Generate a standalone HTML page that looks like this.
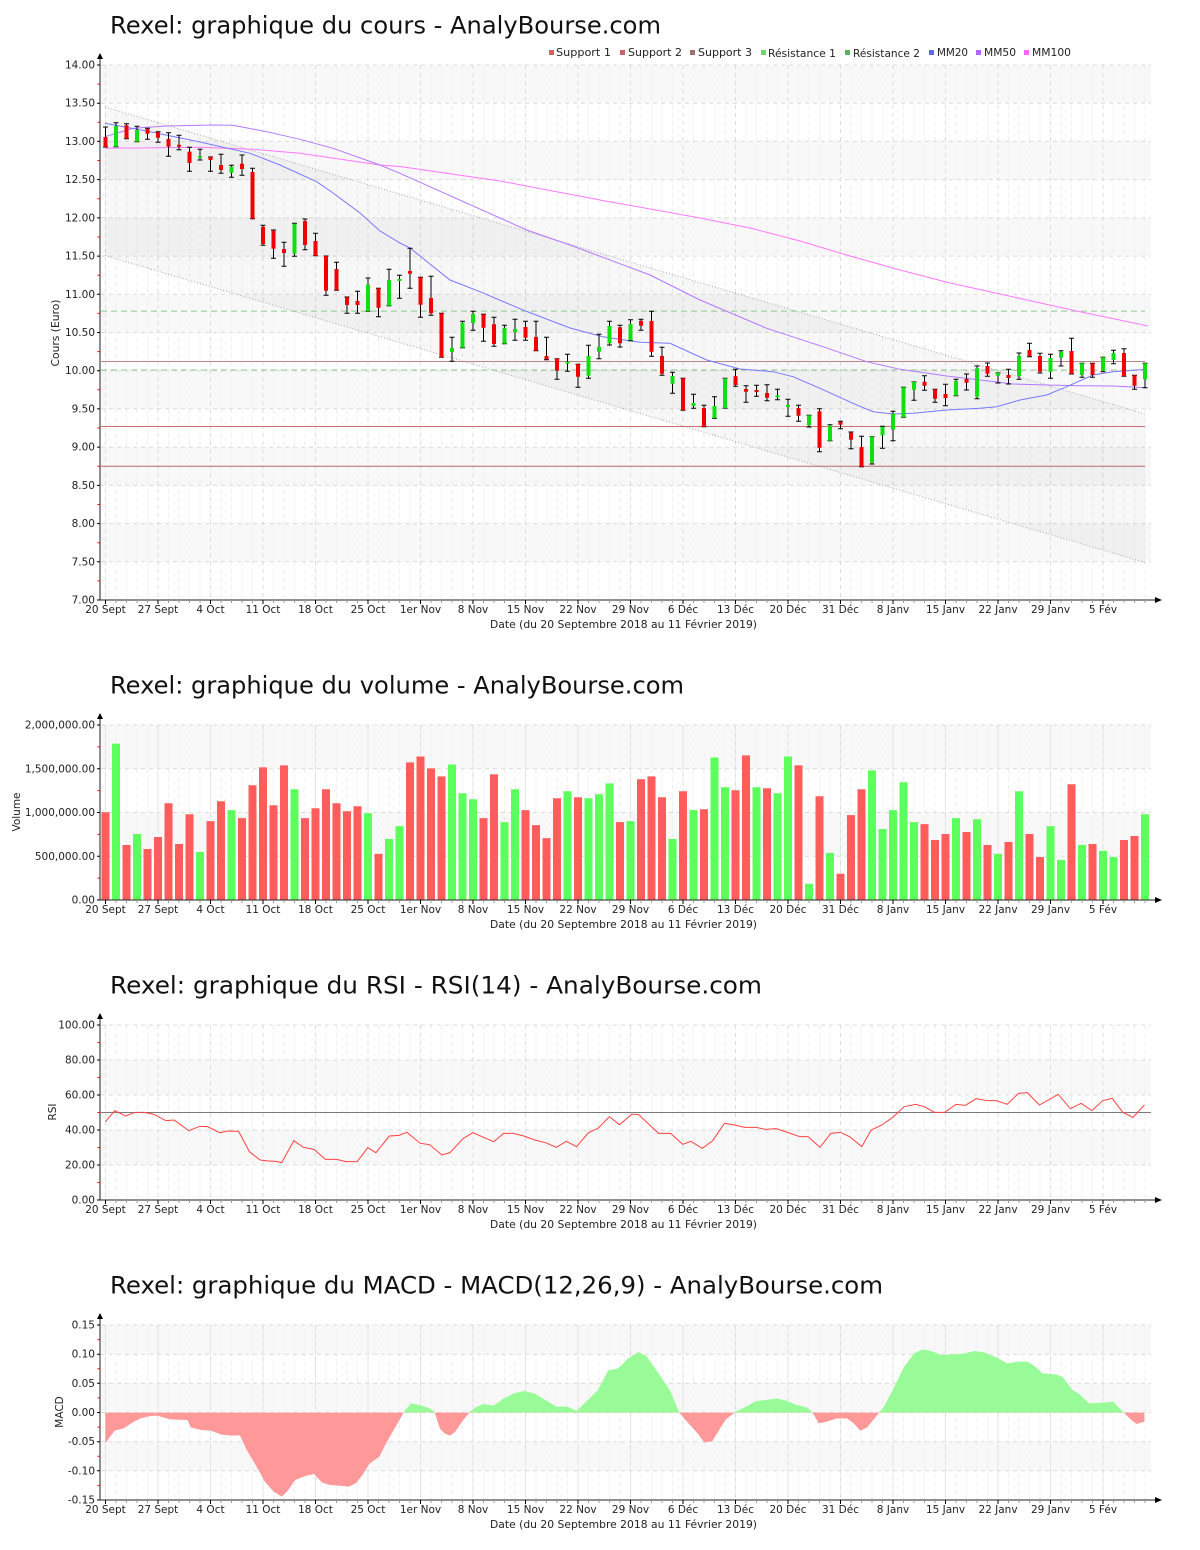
<!DOCTYPE html>
<html><head><meta charset="utf-8"><style>html,body{margin:0;padding:0;background:#fff}svg{display:block}</style></head><body>
<svg width="1200" height="1550" viewBox="0 0 1200 1550" xmlns="http://www.w3.org/2000/svg" xmlns:xlink="http://www.w3.org/1999/xlink" font-family="'DejaVu Sans','Liberation Sans',sans-serif">
<defs>
<pattern id="pd" patternUnits="userSpaceOnUse" x="105" y="1" width="10.5" height="8"><rect width="1" height="4" fill="#eeeeee"/></pattern>
<pattern id="pt" patternUnits="userSpaceOnUse" x="105" y="0" width="10.5" height="3"><rect width="1" height="3" fill="#9a9a9a"/></pattern>
<path id="vw175" d="M105.5 0V175M158 0V175M210.5 0V175M263 0V175M315.5 0V175M368 0V175M420.5 0V175M473 0V175M525.5 0V175M578 0V175M630.5 0V175M683 0V175M735.5 0V175M788 0V175M840.5 0V175M893 0V175M945.5 0V175M998 0V175M1050.5 0V175M1103 0V175" stroke="#dcdcdc" stroke-dasharray="4 4" fill="none"/>
<g id="xt">
<rect x="101" y="0" width="1050" height="3" fill="url(#pt)"/>
<path d="M105.5 0v4M158 0v4M210.5 0v4M263 0v4M315.5 0v4M368 0v4M420.5 0v4M473 0v4M525.5 0v4M578 0v4M630.5 0v4M683 0v4M735.5 0v4M788 0v4M840.5 0v4M893 0v4M945.5 0v4M998 0v4M1050.5 0v4M1103 0v4" stroke="#000" fill="none"/>
<g font-size="10.5" text-anchor="middle" fill="#222">
<text x="105.5" y="13">20 Sept</text><text x="158" y="13">27 Sept</text><text x="210.5" y="13">4 Oct</text><text x="263" y="13">11 Oct</text><text x="315.5" y="13">18 Oct</text><text x="368" y="13">25 Oct</text><text x="420.5" y="13">1er Nov</text><text x="473" y="13">8 Nov</text><text x="525.5" y="13">15 Nov</text><text x="578" y="13">22 Nov</text><text x="630.5" y="13">29 Nov</text><text x="683" y="13">6 Déc</text><text x="735.5" y="13">13 Déc</text><text x="788" y="13">20 Déc</text><text x="840.5" y="13">31 Déc</text><text x="893" y="13">8 Janv</text><text x="945.5" y="13">15 Janv</text><text x="998" y="13">22 Janv</text><text x="1050.5" y="13">29 Janv</text><text x="1103" y="13">5 Fév</text>
<text x="623.5" y="28" textLength="267" lengthAdjust="spacingAndGlyphs">Date (du 20 Septembre 2018 au 11 Février 2019)</text>
</g>
</g>
<clipPath id="cUp"><rect x="100" y="1300" width="1100" height="112.5"/></clipPath>
<clipPath id="cDn"><rect x="100" y="1412.5" width="1100" height="120"/></clipPath>
</defs>
<rect width="1200" height="1550" fill="#fff"/>

<!-- ================= PANEL 1 ================= -->
<text x="110" y="33.3" font-size="24" fill="#111" textLength="551" lengthAdjust="spacingAndGlyphs">Rexel: graphique du cours - AnalyBourse.com</text>
<g font-size="10.5" fill="#222">
<rect x="549" y="50" width="5" height="5" fill="#dc5f5f"/><text x="556" y="56" textLength="55" lengthAdjust="spacingAndGlyphs">Support 1</text>
<rect x="620" y="50" width="5" height="5" fill="#c06868"/><text x="628" y="56" textLength="54" lengthAdjust="spacingAndGlyphs">Support 2</text>
<rect x="690" y="50" width="5" height="5" fill="#a07070"/><text x="698" y="56" textLength="54" lengthAdjust="spacingAndGlyphs">Support 3</text>
<rect x="761" y="50" width="5" height="5" fill="#62dc62"/><text x="768" y="57" textLength="68" lengthAdjust="spacingAndGlyphs">Résistance 1</text>
<rect x="845" y="50" width="5" height="5" fill="#5fb05f"/><text x="853" y="57" textLength="67" lengthAdjust="spacingAndGlyphs">Résistance 2</text>
<rect x="929" y="50" width="5" height="5" fill="#6464ff"/><text x="937" y="56" textLength="31" lengthAdjust="spacingAndGlyphs">MM20</text>
<rect x="976" y="50" width="5" height="5" fill="#b464ff"/><text x="984" y="56" textLength="32" lengthAdjust="spacingAndGlyphs">MM50</text>
<rect x="1024" y="50" width="5" height="5" fill="#ff64ff"/><text x="1032" y="56" textLength="39" lengthAdjust="spacingAndGlyphs">MM100</text>
</g>
<g fill="#f8f8f8">
<rect x="101" y="65" width="1050" height="38.2"/><rect x="101" y="141.4" width="1050" height="38.2"/><rect x="101" y="217.9" width="1050" height="38.2"/><rect x="101" y="294.3" width="1050" height="38.2"/><rect x="101" y="370.7" width="1050" height="38.2"/><rect x="101" y="447.1" width="1050" height="38.3"/><rect x="101" y="523.6" width="1050" height="38.2"/>
</g>
<rect x="101" y="65" width="1050" height="535" fill="url(#pd)"/>
<path d="M105.5 65V600M158 65V600M210.5 65V600M263 65V600M315.5 65V600M368 65V600M420.5 65V600M473 65V600M525.5 65V600M578 65V600M630.5 65V600M683 65V600M735.5 65V600M788 65V600M840.5 65V600M893 65V600M945.5 65V600M998 65V600M1050.5 65V600M1103 65V600" stroke="#dcdcdc" stroke-dasharray="4 4" fill="none"/>
<path d="M101 65H1151M101 103.2H1151M101 141.4H1151M101 179.6H1151M101 217.9H1151M101 256.1H1151M101 294.3H1151M101 332.5H1151M101 370.7H1151M101 408.9H1151M101 447.1H1151M101 485.4H1151M101 523.6H1151M101 561.8H1151" stroke="#dcdcdc" stroke-dasharray="4 4" fill="none"/>
<!-- channel -->
<polygon points="105,107 1145,414 1145,562.5 105,255.5" fill="#000" fill-opacity="0.03"/>
<path d="M105 107L1145 414M105 255.5L1145 562.5" stroke="#a8a8a8" stroke-dasharray="1 2" fill="none"/>
<!-- support / resistance -->
<path d="M101 311.1H1145M101 370H1145" stroke="#8fc88f" stroke-dasharray="6 4" fill="none"/>
<path d="M101 361.5H1145" stroke="#b88888" fill="none"/>
<path d="M101 426.5H1145" stroke="#cc7070" fill="none"/>
<path d="M101 466.3H1145" stroke="#b86a6a" fill="none"/>
<!-- moving averages -->
<polyline fill="none" stroke="#ff78ff" points="105,148.3 200,147.3 253,149.3 300,153.3 380,165 400,166.5 500,181 600,200 700,218 750,228 800,241 850,256 900,270 950,283 1000,294 1027,300 1080,311.7 1148,326"/>
<polyline fill="none" stroke="#b478ff" points="105,136.7 133,128.3 166.7,126 213,125 233,125.3 266.7,131.7 300,139.3 333,148.3 380,165 400,173.3 526.7,230 570,245 636.7,270 650,275 700,300 766.7,328.3 823,346.7 866.7,361.7 900,369.3 946.7,376 980,380 1013,384 1046.7,385 1080,385.7 1113,386 1145,387.7"/>
<polyline fill="none" stroke="#7878ff" points="105,123.3 150,131.7 200,142 250,153.3 280,165 316.7,181.7 333,193 360,213 380,231 400,243 410,248 450,280 480,291.7 523,310 570,328 603,336.7 640,342.3 670,343.3 706.7,360 740,369 773,371.7 793,376.7 820,388.3 853,403.3 873,411.7 893,414 913,413.3 946.7,410 980,408.3 996.7,406.7 1020,400 1046.7,395 1066.7,386.7 1093,375 1113,371.7 1146,369.3"/>
<!-- candles wicks -->
<path fill="none" stroke="#000" stroke-width="1" d="M103 127h5M105.5 127V147M103 147h5M113.5 122.7h5M116 122.7V146.7M113.5 146.7h5M124 123.7h5M126.5 123.7V138.7M124 138.7h5M134.5 126.3h5M137 126.3V141.7M134.5 141.7h5M145 128.3h5M147.5 128.3V139.3M145 139.3h5M155.5 131.7h5M158 131.7V142.3M155.5 142.3h5M166 132.7h5M168.5 132.7V156.3M166 156.3h5M176.5 135.3h5M179 135.3V149.7M176.5 149.7h5M187 147.3h5M189.5 147.3V171.3M187 171.3h5M197.5 149.3h5M200 149.3V160M197.5 160h5M208 157h5M210.5 157V171.3M208 171.3h5M218.5 154.3h5M221 154.3V173.3M218.5 173.3h5M229 165.3h5M231.5 165.3V177.3M229 177.3h5M239.5 155h5M242 155V175.3M239.5 175.3h5M250 168.3h5M252.5 168.3V218.7M250 218.7h5M260.5 225.3h5M263 225.3V245.3M260.5 245.3h5M271 230h5M273.5 230V258.3M271 258.3h5M281.5 242.3h5M284 242.3V266.3M281.5 266.3h5M292 223.3h5M294.5 223.3V256.3M292 256.3h5M302.5 219h5M305 219V249.7M302.5 249.7h5M313 233.3h5M315.5 233.3V255.7M313 255.7h5M323.5 256h5M326 256V295.3M323.5 295.3h5M334 262.3h5M336.5 262.3V290.3M334 290.3h5M344.5 297h5M347 297V313.3M344.5 313.3h5M355 291.3h5M357.5 291.3V313.3M355 313.3h5M365.5 278h5M368 278V311.3M365.5 311.3h5M376 288.3h5M378.5 288.3V316.7M376 316.7h5M386.5 269.3h5M389 269.3V305.7M386.5 305.7h5M397 275.3h5M399.5 275.3V298.3M397 298.3h5M407.5 248.3h5M410 248.3V288.3M407.5 288.3h5M418 277.3h5M420.5 277.3V317.3M418 317.3h5M428.5 276.3h5M431 276.3V315.3M428.5 315.3h5M439 313.3h5M441.5 313.3V357.3M439 357.3h5M449.5 337.3h5M452 337.3V361.3M449.5 361.3h5M460 321.3h5M462.5 321.3V347.7M460 347.7h5M470.5 311.3h5M473 311.3V330.3M470.5 330.3h5M481 314.3h5M483.5 314.3V341.3M481 341.3h5M491.5 317.3h5M494 317.3V346.3M491.5 346.3h5M502 325.3h5M504.5 325.3V343.7M502 343.7h5M512.5 319.3h5M515 319.3V340.3M512.5 340.3h5M523 321.3h5M525.5 321.3V340.3M523 340.3h5M533.5 321.3h5M536 321.3V350.7M533.5 350.7h5M544 337.3h5M546.5 337.3V359.7M544 359.7h5M554.5 358.7h5M557 358.7V379.3M554.5 379.3h5M565 354.3h5M567.5 354.3V371.3M565 371.3h5M575.5 364.3h5M578 364.3V387.3M575.5 387.3h5M586 345.3h5M588.5 345.3V378.3M586 378.3h5M596.5 334.3h5M599 334.3V358.7M596.5 358.7h5M607 321.3h5M609.5 321.3V345M607 345h5M617.5 325.3h5M620 325.3V347M617.5 347h5M628 319.7h5M630.5 319.7V340.7M628 340.7h5M638.5 319.3h5M641 319.3V330.3M638.5 330.3h5M649 311.3h5M651.5 311.3V356.3M649 356.3h5M659.5 347.3h5M662 347.3V375.3M659.5 375.3h5M670 372.3h5M672.5 372.3V393.3M670 393.3h5M680.5 378.3h5M683 378.3V410.3M680.5 410.3h5M691 394.3h5M693.5 394.3V408.3M691 408.3h5M701.5 405.3h5M704 405.3V426.7M701.5 426.7h5M712 396.7h5M714.5 396.7V418.3M712 418.3h5M722.5 378.3h5M725 378.3V408.3M722.5 408.3h5M733 369.3h5M735.5 369.3V386.3M733 386.3h5M743.5 385.7h5M746 385.7V402.3M743.5 402.3h5M754 385.3h5M756.5 385.3V396.3M754 396.3h5M764.5 384.7h5M767 384.7V400.7M764.5 400.7h5M775 389.3h5M777.5 389.3V399.7M775 399.7h5M785.5 399.3h5M788 399.3V416.3M785.5 416.3h5M796 405.3h5M798.5 405.3V421.3M796 421.3h5M806.5 415.3h5M809 415.3V427M806.5 427h5M817 408.7h5M819.5 408.7V451.7M817 451.7h5M827.5 424.7h5M830 424.7V440.7M827.5 440.7h5M838 421.3h5M840.5 421.3V428.7M838 428.7h5M848.5 432h5M851 432V448.7M848.5 448.7h5M859 436.3h5M861.5 436.3V466.7M859 466.7h5M869.5 436.7h5M872 436.7V464M869.5 464h5M880 426.3h5M882.5 426.3V448.3M880 448.3h5M890.5 411.3h5M893 411.3V440.7M890.5 440.7h5M901 387.3h5M903.5 387.3V417.3M901 417.3h5M911.5 382h5M914 382V400.3M911.5 400.3h5M922 375.7h5M924.5 375.7V390.3M922 390.3h5M932.5 389.3h5M935 389.3V402.3M932.5 402.3h5M943 384.3h5M945.5 384.3V405.7M943 405.7h5M953.5 379.3h5M956 379.3V395.7M953.5 395.7h5M964 374h5M966.5 374V390M964 390h5M974.5 366h5M977 366V398.7M974.5 398.7h5M985 363h5M987.5 363V376.3M985 376.3h5M995.5 373h5M998 373V383M995.5 383h5M1006 369.3h5M1008.5 369.3V384M1006 384h5M1016.5 353h5M1019 353V379.3M1016.5 379.3h5M1027 343.3h5M1029.5 343.3V356.7M1027 356.7h5M1037.5 353.3h5M1040 353.3V373M1037.5 373h5M1048 354.3h5M1050.5 354.3V378.3M1048 378.3h5M1058.5 350.7h5M1061 350.7V366M1058.5 366h5M1069 338.3h5M1071.5 338.3V374M1069 374h5M1079.5 363.3h5M1082 363.3V377.3M1079.5 377.3h5M1090 363.3h5M1092.5 363.3V377.3M1090 377.3h5M1100.5 357.3h5M1103 357.3V371.7M1100.5 371.7h5M1111 350.3h5M1113.5 350.3V363.7M1111 363.7h5M1121.5 348.7h5M1124 348.7V376.3M1121.5 376.3h5M1132 375.3h5M1134.5 375.3V389.3M1132 389.3h5M1142.5 363.3h5M1145 363.3V387.7M1142.5 387.7h5"/>
<path fill="#f00000" d="M103.5 137h4V147h-4zM124.5 125.3h4V138.7h-4zM145.5 129h4V133.7h-4zM156 132.3h4V137.7h-4zM166.5 139h4V146.7h-4zM177 144.7h4V146.7h-4zM187.5 151.7h4V163h-4zM208.5 157h4V160h-4zM219 165h4V170h-4zM240 163.7h4V169h-4zM250.5 172h4V218.7h-4zM261 226.7h4V244h-4zM271.5 230.7h4V248.7h-4zM282 249h4V253h-4zM303 221h4V245h-4zM313.5 241h4V255.7h-4zM324 256h4V290.7h-4zM334.5 269h4V290.3h-4zM345 297.3h4V305h-4zM355.5 301h4V305h-4zM376.5 288.3h4V307.7h-4zM408 271h4V273.7h-4zM418.5 277.3h4V304.7h-4zM429 298h4V313.3h-4zM439.5 313.3h4V357.3h-4zM481.5 314.3h4V327.7h-4zM492 324.3h4V344h-4zM523.5 327h4V337.7h-4zM534 337h4V350.7h-4zM544.5 356h4V359.3h-4zM555 358.7h4V370.7h-4zM576 364.3h4V376.7h-4zM618 327.3h4V343.3h-4zM639 320.7h4V325.7h-4zM649.5 321h4V351.7h-4zM660 356h4V373.7h-4zM681 378.3h4V410.3h-4zM702 408h4V426.7h-4zM733.5 376.3h4V385h-4zM744 389h4V391.7h-4zM754.5 390h4V392h-4zM765 393h4V397.7h-4zM796.5 408h4V415.7h-4zM817.5 411.3h4V447.7h-4zM838.5 422h4V424.7h-4zM849 432.7h4V439.7h-4zM859.5 447h4V466.7h-4zM922.5 381.7h4V385.7h-4zM933 389.3h4V398.7h-4zM943.5 394h4V398h-4zM964.5 379h4V382.7h-4zM985.5 366h4V373.7h-4zM1006.5 375h4V378h-4zM1027.5 350h4V356.3h-4zM1038 356h4V371.7h-4zM1069.5 351h4V374h-4zM1090.5 363.3h4V375h-4zM1122 353h4V376.3h-4zM1132.5 375.3h4V385.7h-4z"/>
<path fill="#10e010" d="M114 126h4V146.7h-4zM135 130h4V141.7h-4zM198 156h4V158h-4zM229.5 166.7h4V172.7h-4zM292.5 223.7h4V253.7h-4zM366 284.7h4V311.3h-4zM387 280h4V305.7h-4zM397.5 279h4V281h-4zM450 348h4V352h-4zM460.5 322.7h4V347.7h-4zM471 314h4V323h-4zM502.5 327.7h4V343.7h-4zM513 329h4V332.3h-4zM565.5 361.7h4V363.7h-4zM586.5 356h4V375.7h-4zM597 347h4V351.7h-4zM607.5 326h4V343.3h-4zM628.5 324h4V340.3h-4zM670.5 376h4V383.7h-4zM691.5 403h4V406h-4zM712.5 406h4V418h-4zM723 378.3h4V408.3h-4zM775.5 395.3h4V397.3h-4zM786 405h4V407h-4zM807 415.3h4V425.3h-4zM828 426h4V440.7h-4zM870 436.7h4V462.7h-4zM880.5 426.7h4V435.3h-4zM891 413.7h4V429.7h-4zM901.5 387.3h4V417.3h-4zM912 382h4V389.7h-4zM954 381h4V395.7h-4zM975 368.3h4V396.7h-4zM996 373h4V375.7h-4zM1017 355.7h4V376h-4zM1048.5 358h4V371.7h-4zM1059 351.7h4V357.7h-4zM1080 363.3h4V375h-4zM1101 357.3h4V370.7h-4zM1111.5 353h4V360h-4zM1143 363.3h4V379.3h-4z"/>
<!-- axes panel 1 -->
<path d="M100 59V600H1156" stroke="#222" fill="none"/>
<polygon points="97,59 103,59 100,53" fill="#000"/>
<polygon points="1155,597 1155,603 1162,600" fill="#000"/>
<path d="M97 65h3M97 103.2h3M97 141.4h3M97 179.6h3M97 217.9h3M97 256.1h3M97 294.3h3M97 332.5h3M97 370.7h3M97 408.9h3M97 447.1h3M97 485.4h3M97 523.6h3M97 561.8h3M97 600h3" stroke="#000"/>
<path d="M97.5 84.1h2.5M97.5 122.3h2.5M97.5 160.5h2.5M97.5 198.8h2.5M97.5 237h2.5M97.5 275.2h2.5M97.5 313.4h2.5M97.5 351.6h2.5M97.5 389.8h2.5M97.5 428h2.5M97.5 466.3h2.5M97.5 504.5h2.5M97.5 542.7h2.5M97.5 580.9h2.5" stroke="#f00"/>
<g font-size="10.5" text-anchor="end" fill="#222">
<text x="95" y="68.5">14.00</text><text x="95" y="106.7">13.50</text><text x="95" y="144.9">13.00</text><text x="95" y="183.1">12.50</text><text x="95" y="221.4">12.00</text><text x="95" y="259.6">11.50</text><text x="95" y="297.8">11.00</text><text x="95" y="336">10.50</text><text x="95" y="374.2">10.00</text><text x="95" y="412.4">9.50</text><text x="95" y="450.6">9.00</text><text x="95" y="488.9">8.50</text><text x="95" y="527.1">8.00</text><text x="95" y="565.3">7.50</text><text x="95" y="603.5">7.00</text>
</g>
<text transform="translate(59,333) rotate(-90)" font-size="10.5" text-anchor="middle" fill="#222" textLength="67" lengthAdjust="spacingAndGlyphs">Cours (Euro)</text>
<use xlink:href="#xt" href="#xt" x="0" y="600"/>

<!-- ================= PANEL 2 ================= -->
<text x="110" y="693.3" font-size="24" fill="#111" textLength="574" lengthAdjust="spacingAndGlyphs">Rexel: graphique du volume - AnalyBourse.com</text>
<g fill="#f8f8f8"><rect x="101" y="725" width="1050" height="43.75"/><rect x="101" y="812.5" width="1050" height="43.75"/></g>
<rect x="101" y="725" width="1050" height="175" fill="url(#pd)"/>
<use xlink:href="#vw175" href="#vw175" x="0" y="725"/>
<path d="M101 725H1151M101 768.75H1151M101 812.5H1151M101 856.25H1151" stroke="#dcdcdc" stroke-dasharray="4 4" fill="none"/>
<path fill="#ff5c5c" d="M101.5 812.2h8V900h-8zM122.5 845h8V900h-8zM143.5 849h8V900h-8zM154 837h8V900h-8zM164.5 803.2h8V900h-8zM175 844h8V900h-8zM185.5 814.2h8V900h-8zM206.5 821.1h8V900h-8zM217 801.2h8V900h-8zM238 818.1h8V900h-8zM248.5 785.3h8V900h-8zM259 767.4h8V900h-8zM269.5 805.2h8V900h-8zM280 765.4h8V900h-8zM301 818.1h8V900h-8zM311.5 808.2h8V900h-8zM322 789.3h8V900h-8zM332.5 803.2h8V900h-8zM343 811.2h8V900h-8zM353.5 806.2h8V900h-8zM374.5 853.9h8V900h-8zM406 762.4h8V900h-8zM416.5 756.5h8V900h-8zM427 768.4h8V900h-8zM437.5 776.4h8V900h-8zM479.5 818.1h8V900h-8zM490 774.4h8V900h-8zM521.5 810.1h8V900h-8zM532 825.1h8V900h-8zM542.5 838.1h8V900h-8zM553 798.2h8V900h-8zM574 797.3h8V900h-8zM616 822.1h8V900h-8zM637 779.3h8V900h-8zM647.5 776.4h8V900h-8zM658 797.3h8V900h-8zM679 791.3h8V900h-8zM700 809.2h8V900h-8zM731.5 790.3h8V900h-8zM742 755.4h8V900h-8zM763 788.3h8V900h-8zM794.5 765.4h8V900h-8zM815.5 796.2h8V900h-8zM836.5 873.8h8V900h-8zM847 815.1h8V900h-8zM857.5 789.3h8V900h-8zM920.5 824.1h8V900h-8zM931 840h8V900h-8zM941.5 834h8V900h-8zM962.5 832h8V900h-8zM983.5 845h8V900h-8zM1004.5 842h8V900h-8zM1025.5 834h8V900h-8zM1036 857h8V900h-8zM1067.5 784.3h8V900h-8zM1088.5 844h8V900h-8zM1120 840h8V900h-8zM1130.5 836h8V900h-8z"/>
<path fill="#5cff5c" d="M112 743.6h8V900h-8zM133 834h8V900h-8zM196 852h8V900h-8zM227.5 810.1h8V900h-8zM290.5 789.3h8V900h-8zM364 813.2h8V900h-8zM385 839h8V900h-8zM395.5 826.1h8V900h-8zM448 764.5h8V900h-8zM458.5 793.3h8V900h-8zM469 799.2h8V900h-8zM500.5 822.1h8V900h-8zM511 789.3h8V900h-8zM563.5 791.3h8V900h-8zM584.5 798.2h8V900h-8zM595 794.3h8V900h-8zM605.5 783.4h8V900h-8zM626.5 821.1h8V900h-8zM668.5 839h8V900h-8zM689.5 810.1h8V900h-8zM710.5 757.5h8V900h-8zM721 787.3h8V900h-8zM752.5 787.3h8V900h-8zM773.5 793.3h8V900h-8zM784 756.5h8V900h-8zM805 883.7h8V900h-8zM826 852.9h8V900h-8zM868 770.4h8V900h-8zM878.5 829h8V900h-8zM889 810.1h8V900h-8zM899.5 782.3h8V900h-8zM910 822.1h8V900h-8zM952 818.1h8V900h-8zM973 819.2h8V900h-8zM994 853.9h8V900h-8zM1015 791.3h8V900h-8zM1046.5 826.1h8V900h-8zM1057 859.9h8V900h-8zM1078 845h8V900h-8zM1099 850.9h8V900h-8zM1109.5 857h8V900h-8zM1141 814.2h8V900h-8z"/>
<path d="M100 719V900H1156" stroke="#222" fill="none"/>
<polygon points="97,719 103,719 100,713" fill="#000"/>
<polygon points="1155,897 1155,903 1162,900" fill="#000"/>
<path d="M97 725h3M97 768.75h3M97 812.5h3M97 856.25h3M97 900h3" stroke="#000"/>
<path d="M97.5 746.9h2.5M97.5 790.6h2.5M97.5 834.4h2.5M97.5 878.1h2.5" stroke="#f00"/>
<g font-size="10.5" text-anchor="end" fill="#222">
<text x="95" y="728.5">2,000,000.00</text><text x="95" y="772.25">1,500,000.00</text><text x="95" y="816">1,000,000.00</text><text x="95" y="859.75">500,000.00</text><text x="95" y="903.5">0.00</text>
</g>
<text transform="translate(20,812) rotate(-90)" font-size="10.5" text-anchor="middle" fill="#222">Volume</text>
<use xlink:href="#xt" href="#xt" x="0" y="900"/>

<!-- ================= PANEL 3 ================= -->
<text x="110" y="993.3" font-size="24" fill="#111" textLength="652" lengthAdjust="spacingAndGlyphs">Rexel: graphique du RSI - RSI(14) - AnalyBourse.com</text>
<g fill="#f8f8f8"><rect x="101" y="1060" width="1050" height="35"/><rect x="101" y="1130" width="1050" height="35"/></g>
<rect x="101" y="1025" width="1050" height="175" fill="url(#pd)"/>
<use xlink:href="#vw175" href="#vw175" x="0" y="1025"/>
<path d="M101 1025H1151M101 1060H1151M101 1095H1151M101 1130H1151M101 1165H1151" stroke="#dcdcdc" stroke-dasharray="4 4" fill="none"/>
<path d="M101 1112.5H1151" stroke="#7a7a7a" fill="none"/>
<g transform="translate(100,1080) scale(0.67295,0.33333)">
<polyline fill="none" stroke="#ff4040" stroke-width="1" vector-effect="non-scaling-stroke" points="8,125 22,92 38,108 52,97 66,97 80,103 98,122 110,120 132,152 148,139 160,140 178,158 190,153 206,154 222,215 238,240 250,243 262,244 270,248 288,182 302,202 318,208 335,238 352,238 365,245 382,245 398,203 410,218 430,168 444,166 456,157 476,190 490,194 508,225 520,218 540,175 554,158 570,172 585,185 600,160 614,160 630,168 646,180 662,188 678,202 693,184 708,200 726,158 740,145 757,110 772,134 790,103 800,103 830,160 848,160 866,193 878,184 895,205 910,183 928,130 943,135 958,142 975,142 988,148 1005,146 1020,156 1040,170 1052,170 1070,202 1086,160 1100,157 1114,170 1132,200 1146,150 1162,135 1178,112 1195,80 1212,73 1225,80 1240,97 1255,97 1272,73 1286,76 1302,56 1318,62 1332,62 1348,73 1365,40 1378,38 1396,75 1424,43 1442,86 1458,70 1474,92 1490,62 1504,55 1520,97 1535,112 1552,75"/>
</g>
<path d="M100 1019V1200H1156" stroke="#222" fill="none"/>
<polygon points="97,1019 103,1019 100,1013" fill="#000"/>
<polygon points="1155,1197 1155,1203 1162,1200" fill="#000"/>
<path d="M97 1025h3M97 1060h3M97 1095h3M97 1130h3M97 1165h3M97 1200h3" stroke="#000"/>
<path d="M97.5 1042.5h2.5M97.5 1077.5h2.5M97.5 1112.5h2.5M97.5 1147.5h2.5M97.5 1182.5h2.5" stroke="#f00"/>
<g font-size="10.5" text-anchor="end" fill="#222">
<text x="95" y="1028.5">100.00</text><text x="95" y="1063.5">80.00</text><text x="95" y="1098.5">60.00</text><text x="95" y="1133.5">40.00</text><text x="95" y="1168.5">20.00</text><text x="95" y="1203.5">0.00</text>
</g>
<text transform="translate(56,1112) rotate(-90)" font-size="10.5" text-anchor="middle" fill="#222">RSI</text>
<use xlink:href="#xt" href="#xt" x="0" y="1200"/>

<!-- ================= PANEL 4 ================= -->
<text x="110" y="1293.3" font-size="24" fill="#111" textLength="773" lengthAdjust="spacingAndGlyphs">Rexel: graphique du MACD - MACD(12,26,9) - AnalyBourse.com</text>
<g fill="#f8f8f8"><rect x="101" y="1325" width="1050" height="29.2"/><rect x="101" y="1383.3" width="1050" height="29.2"/><rect x="101" y="1441.7" width="1050" height="29.1"/></g>
<rect x="101" y="1325" width="1050" height="175" fill="url(#pd)"/>
<use xlink:href="#vw175" href="#vw175" x="0" y="1325"/>
<path d="M101 1325H1151M101 1354.2H1151M101 1383.3H1151M101 1412.5H1151M101 1441.7H1151M101 1470.8H1151" stroke="#dcdcdc" stroke-dasharray="4 4" fill="none"/>
<defs>
<polygon id="macd" points="8,218 8,310 15,290 22,272 35,265 48,248 60,235 75,228 85,227 95,233 105,238 130,240 135,262 150,270 165,272 180,284 195,287 208,286 218,330 230,370 245,425 258,455 270,470 278,455 290,420 305,408 318,402 330,428 342,435 360,438 370,440 380,430 390,405 400,372 415,350 425,310 435,275 445,240 452,215 462,190 475,195 490,205 497,215 505,265 512,280 520,287 528,275 538,245 550,215 560,200 570,192 585,197 600,175 615,160 630,153 645,160 662,180 678,200 695,200 708,213 720,190 740,150 755,92 770,85 785,55 800,36 812,48 830,100 848,155 860,215 870,240 880,262 890,285 898,308 910,303 920,270 930,238 945,215 960,200 975,183 990,180 1005,175 1020,182 1035,195 1050,202 1058,215 1068,250 1080,245 1095,235 1110,235 1120,250 1130,272 1140,262 1155,225 1165,200 1178,150 1195,80 1210,40 1222,28 1235,33 1250,45 1265,43 1280,42 1300,33 1315,38 1335,55 1348,70 1365,65 1378,65 1390,80 1400,100 1420,103 1430,110 1445,150 1455,162 1470,190 1490,188 1505,185 1520,215 1530,235 1540,252 1552,245 1552,218"/>
</defs>
<g clip-path="url(#cUp)"><g transform="translate(100,1340) scale(0.67295,0.33333)"><use xlink:href="#macd" href="#macd" fill="#98fb98"/></g></g>
<g clip-path="url(#cDn)"><g transform="translate(100,1340) scale(0.67295,0.33333)"><use xlink:href="#macd" href="#macd" fill="#ff9999"/></g></g>
<path d="M100 1319V1500H1156" stroke="#222" fill="none"/>
<polygon points="97,1319 103,1319 100,1313" fill="#000"/>
<polygon points="1155,1497 1155,1503 1162,1500" fill="#000"/>
<path d="M97 1325h3M97 1354.2h3M97 1383.3h3M97 1412.5h3M97 1441.7h3M97 1470.8h3M97 1500h3" stroke="#000"/>
<path d="M97.5 1339.6h2.5M97.5 1368.75h2.5M97.5 1397.9h2.5M97.5 1427.1h2.5M97.5 1456.25h2.5M97.5 1485.4h2.5" stroke="#f00"/>
<g font-size="10.5" text-anchor="end" fill="#222">
<text x="95" y="1328.5">0.15</text><text x="95" y="1357.7">0.10</text><text x="95" y="1386.8">0.05</text><text x="95" y="1416">0.00</text><text x="95" y="1445.2">-0.05</text><text x="95" y="1474.3">-0.10</text><text x="95" y="1503.5">-0.15</text>
</g>
<text transform="translate(63,1412) rotate(-90)" font-size="10.5" text-anchor="middle" fill="#222">MACD</text>
<use xlink:href="#xt" href="#xt" x="0" y="1500"/>
</svg>
</body></html>
